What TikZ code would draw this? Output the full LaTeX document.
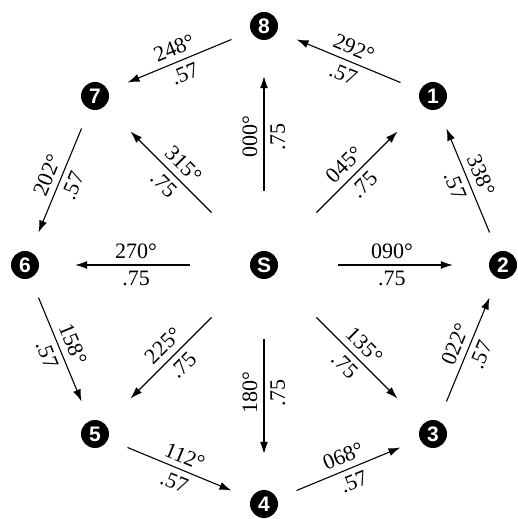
\documentclass[tikz,border=0pt]{standalone}
\usepackage{fontspec}
\setmainfont{Liberation Serif}
\newfontfamily\stnfont{Liberation Sans}
\usepackage{tikz}
\usetikzlibrary{arrows.meta, calc}

\begin{document}
\begin{tikzpicture}[
    x=1pt, y=1pt,
    stn/.style={circle, fill=black, text=white, inner sep=0pt, minimum size=28pt, font=\stnfont\bfseries\fontsize{21}{21}\selectfont},
    spoke/.style={draw, line width=1.1pt, -{Latex[length=12pt, width=8pt]}, shorten <=60pt, shorten >=36pt},
    ring/.style={draw, line width=1.1pt, -{Latex[length=12pt, width=8pt]}, shorten <=21pt, shorten >=21pt},
    brg/.style={sloped, above, inner sep=6pt, font=\fontsize{22}{22}\selectfont},
    dst/.style={sloped, below, inner sep=6pt, font=\fontsize{22}{22}\selectfont},
    turned/.style={rotate=180}
]
\useasboundingbox (0,0) rectangle (518,519);

% stations
\node [stn] (S) at (264,254) {S};
\node [stn] (n8) at (264,493) {8};
\node [stn] (n1) at (433,423) {1};
\node [stn] (n2) at (503,254) {2};
\node [stn] (n3) at (433,85) {3};
\node [stn] (n4) at (264,15) {4};
\node [stn] (n5) at (95,85) {5};
\node [stn] (n6) at (25,254) {6};
\node [stn] (n7) at (95,423) {7};

% legs out from S
\draw [spoke] (S) -- (n8) node [brg, pos=.54] {000°} node [dst, pos=.54] {.75};
\draw [spoke] (S) -- (n1) node [brg, pos=.54] {045°} node [dst, pos=.54] {.75};
\draw [spoke] (S) -- (n2) node [brg, pos=.54] {090°} node [dst, pos=.54] {.75};
\draw [spoke] (S) -- (n3) node [brg, pos=.54] {135°} node [dst, pos=.54] {.75};
\draw [spoke] (S) -- (n4) node [brg, turned, pos=.54] {180°} node [dst, turned, pos=.54] {.75};
\draw [spoke] (S) -- (n5) node [brg, pos=.54] {225°} node [dst, pos=.54] {.75};
\draw [spoke] (S) -- (n6) node [brg, pos=.54] {270°} node [dst, pos=.54] {.75};
\draw [spoke] (S) -- (n7) node [brg, pos=.54] {315°} node [dst, pos=.54] {.75};

% legs round the ring
\draw [ring] (n2) -- (n1) node [brg, midway] {338°} node [dst, midway] {.57};
\draw [ring] (n1) -- (n8) node [brg, midway] {292°} node [dst, midway] {.57};
\draw [ring] (n8) -- (n7) node [brg, midway] {248°} node [dst, midway] {.57};
\draw [ring] (n7) -- (n6) node [brg, midway] {202°} node [dst, midway] {.57};
\draw [ring] (n6) -- (n5) node [brg, midway] {158°} node [dst, midway] {.57};
\draw [ring] (n5) -- (n4) node [brg, midway] {112°} node [dst, midway] {.57};
\draw [ring] (n4) -- (n3) node [brg, midway] {068°} node [dst, midway] {.57};
\draw [ring] (n3) -- (n2) node [brg, midway] {022°} node [dst, midway] {.57};
\end{tikzpicture}
\end{document}
